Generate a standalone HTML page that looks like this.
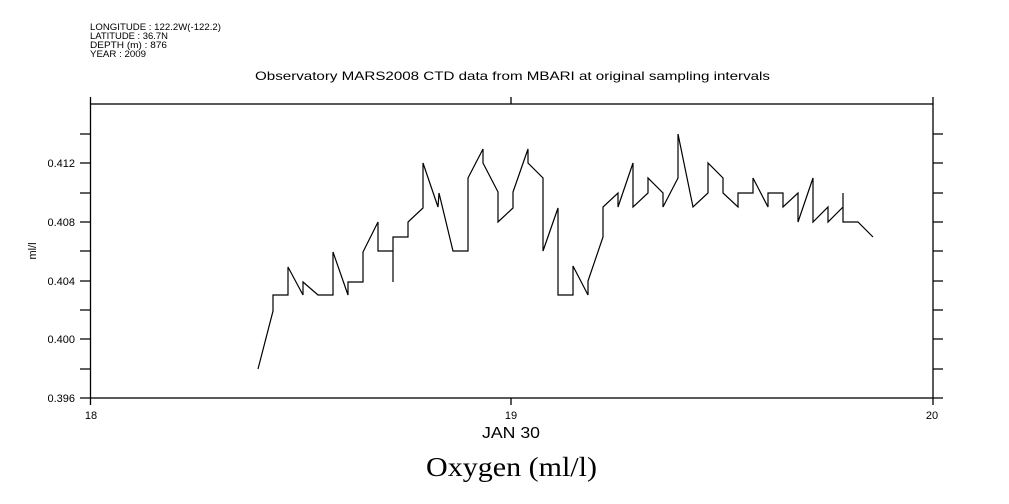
<!DOCTYPE html>
<html><head><meta charset="utf-8"><style>
body{margin:0;background:#fff;}
svg{display:block;}
text{font-family:"Liberation Sans",sans-serif;fill:#000;}
</style></head><body>
<svg width="1009" height="504" viewBox="0 0 1009 504" xmlns="http://www.w3.org/2000/svg">
<g font-size="9">
<text x="90" y="30" textLength="131" lengthAdjust="spacingAndGlyphs">LONGITUDE : 122.2W(-122.2)</text>
<text x="90" y="39" textLength="78" lengthAdjust="spacingAndGlyphs">LATITUDE : 36.7N</text>
<text x="90" y="48" textLength="77" lengthAdjust="spacingAndGlyphs">DEPTH (m) : 876</text>
<text x="90" y="57" textLength="56" lengthAdjust="spacingAndGlyphs">YEAR : 2009</text>
</g>
<text x="255" y="80" font-size="12" textLength="515" lengthAdjust="spacingAndGlyphs">Observatory MARS2008 CTD data from MBARI at original sampling intervals</text>
<g stroke="#000" stroke-width="1.3" fill="none">
<rect x="90.5" y="104" width="842.5" height="294"/>
<path d="M90.5 97V104M511 97V104M933 97V104M90.5 398V405M511 398V405M933 398V405"/>
<path d="M80 134H90M80 163H90M80 193H90M80 222H90M80 251H90M80 281H90M80 310H90M80 339H90M80 369H90M80 398H90"/>
<path d="M933 134H943M933 163H943M933 193H943M933 222H943M933 251H943M933 281H943M933 310H943M933 339H943M933 369H943M933 398H943"/>
</g>
<g font-size="11" text-anchor="end">
<text x="75" y="167">0.412</text>
<text x="75" y="226">0.408</text>
<text x="75" y="285">0.404</text>
<text x="75" y="343">0.400</text>
<text x="75" y="402">0.396</text>
</g>
<text transform="translate(36,251) rotate(-90)" font-size="11" text-anchor="middle">ml/l</text>
<g font-size="11" text-anchor="middle">
<text x="91" y="419">18</text>
<text x="511" y="419">19</text>
<text x="932" y="419">20</text>
</g>
<text x="482" y="438" font-size="16" textLength="58" lengthAdjust="spacingAndGlyphs">JAN 30</text>
<text x="426" y="476" font-size="27" textLength="171" lengthAdjust="spacingAndGlyphs" style="font-family:'Liberation Serif',serif">Oxygen (ml/l)</text>
<polyline fill="none" stroke="#000" stroke-width="1.2" points="258,369 273,311 273,295 288,295 288,267 303,295 303,282 318,295 333,295 333,252 348,295 348,282 363,282 363,252 378,222 378,251 393,251 393,282 393,237 408,237 408,222 423,208 423,163 438,207 439,193 453,251 468,251 468,178 483,149 483,163 498,192 498,222 513,208 513,192 528,149 528,163 543,178 543,251 558,208 558,295 573,295 573,266 588,295 588,281 603,237 603,207 618,193 618,207 633,163 633,207 648,193 648,178 663,193 663,207 678,178 678,134 693,207 708,193 708,163 723,178 723,193 738,207 738,193 753,193 753,178 768,207 768,193 783,193 783,207 798,193 798,222 813,178 813,222 828,207 828,222 843,207 843,193 843,222 858,222 873,237"/>
</svg>
</body></html>
